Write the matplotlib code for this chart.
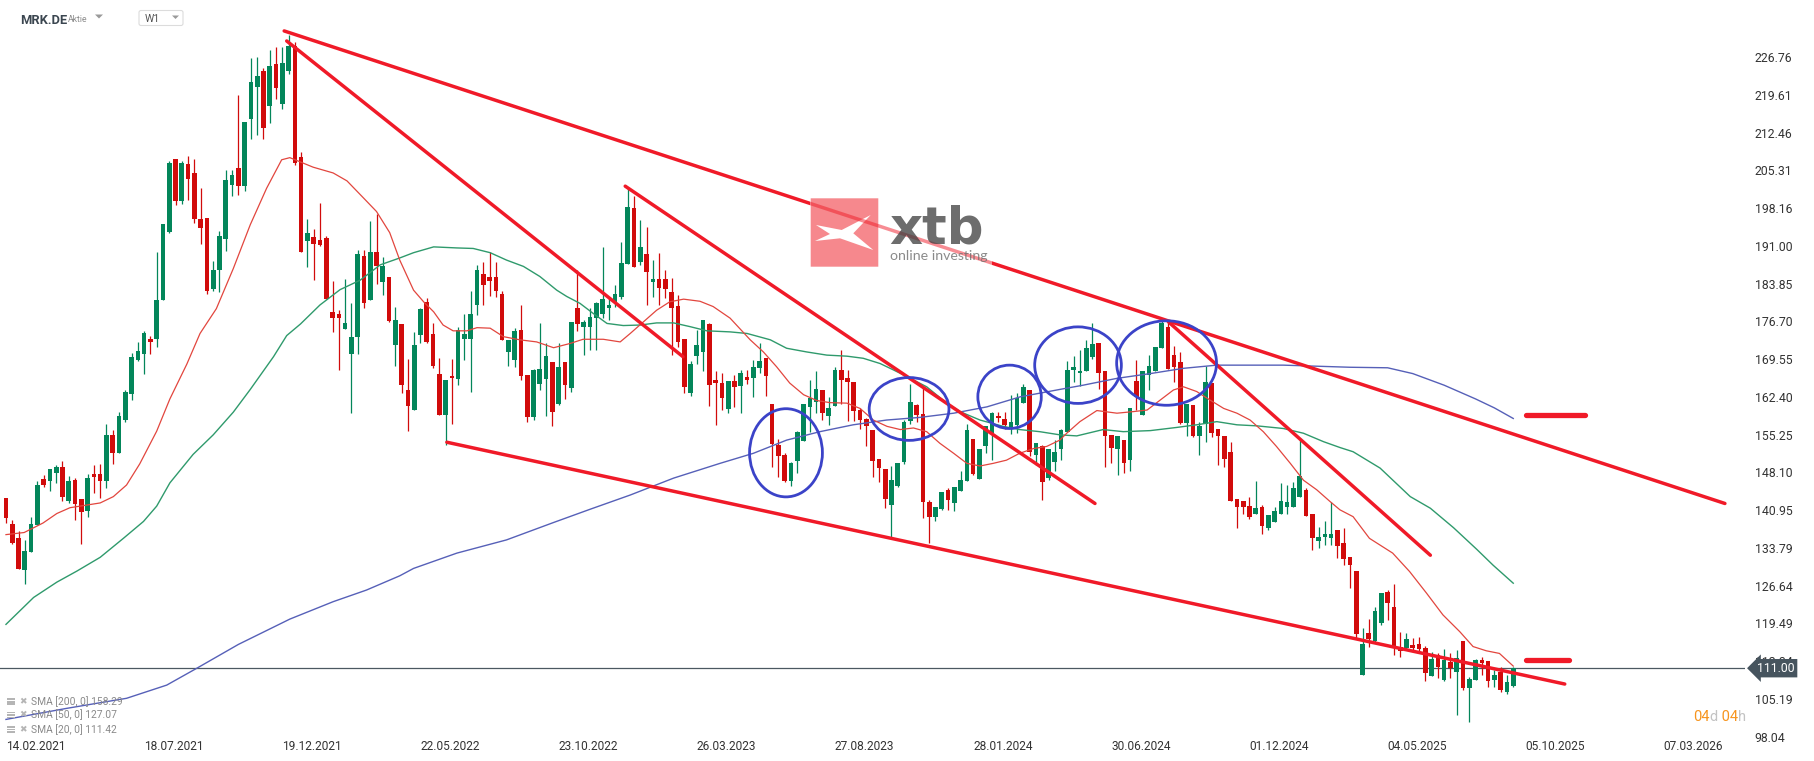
"""
MRK.DE weekly candles with SMA 20/50/200, trend channel lines and markup,
redrawn in the style of an xStation screenshot.
"""

import datetime as dt
import numpy as np
import matplotlib
matplotlib.use("Agg")
import matplotlib.pyplot as plt
import matplotlib.transforms as mtransforms
from matplotlib.patches import Ellipse, PathPatch, FancyBboxPatch, Rectangle
from matplotlib.path import Path

plt.rcParams['font.family'] = ['Roboto', 'DejaVu Sans']

# ---------------------------------------------------------------- data
FIRST_WEEK = dt.date(2021, 1, 12)   # week of the first candle

opens = [
    143.3, 138.3, 135.6, 129.6, 133.1, 138.1, 146.8, 146.5, 147.9, 149.2,
    142.7, 146.7, 143.0, 140.7, 147.8, 147.8, 146.4, 155.2, 151.7, 158.0,
    163.0, 169.3, 170.6, 173.3, 173.4, 180.7, 193.7, 207.5, 199.5, 206.5,
    204.8, 196.1, 196.2, 182.8, 186.5, 192.3, 202.6, 205.7, 202.4, 215.1,
    221.1, 224.2, 217.5, 225.4, 217.8, 224.2, 228.8, 207.9, 191.9, 192.7,
    192.1, 192.5, 178.5, 178.1, 175.3, 170.5, 173.8, 189.0, 180.7, 189.8,
    184.1, 185.1, 172.3, 176.1, 163.6, 159.9, 174.1, 180.4, 174.3, 166.7,
    159.0, 166.3, 165.8, 173.4, 173.4, 179.8, 185.7, 185.1, 185.1, 181.9,
    170.8, 169.4, 175.0, 166.5, 158.6, 164.9, 165.8, 169.0, 161.0, 169.0,
    164.1, 179.3, 175.7, 175.7, 177.4, 178.1, 179.3, 180.2, 181.4, 187.6,
    198.1, 188.0, 189.4, 184.2, 184.8, 184.8, 182.2, 179.6, 173.3, 163.2,
    170.1, 170.8, 176.2, 165.6, 165.1, 160.0, 165.4, 164.5, 166.1, 166.0,
    167.9, 169.7, 161.0, 153.3, 151.4, 146.5, 150.2, 154.0, 160.5, 161.5,
    163.7, 158.8, 160.7, 167.4, 166.0, 165.3, 159.9, 158.2, 156.1, 150.6,
    148.7, 142.0, 145.6, 150.1, 157.8, 160.8, 159.1, 142.5, 139.6, 141.1,
    144.8, 142.2, 144.6, 146.5, 154.5, 146.8, 153.0, 155.5, 158.8, 158.2,
    156.7, 157.0, 161.2, 163.7, 151.4, 153.1, 147.1, 150.1, 152.6, 155.8,
    167.4, 166.9, 167.2, 169.9, 172.5, 167.3, 155.2, 152.6, 154.2, 150.4,
    165.4, 159.0, 166.5, 167.3, 171.6, 175.6, 170.3, 169.0, 157.5, 160.8,
    154.9, 157.3, 165.1, 156.4, 155.0, 151.9, 143.0, 142.7, 141.7, 140.3,
    141.6, 137.5, 138.6, 140.3, 141.6, 141.6, 143.5, 144.7, 140.3, 135.0,
    135.9, 135.7, 137.1, 134.8, 132.1, 129.4, 109.7, 117.6, 116.1, 119.5,
    125.4, 122.5, 115.1, 114.8, 115.4, 115.6, 114.8, 109.6, 113.5, 108.8,
    112.2, 110.3, 116.2, 107.2, 108.8, 112.6, 112.4, 108.8, 110.3, 106.4,
    107.6,
]
highs = [
    143.3, 139.1, 137.0, 135.2, 139.6, 146.5, 147.5, 148.8, 149.4, 150.3,
    147.4, 147.1, 143.0, 147.7, 149.4, 149.7, 157.2, 156.2, 159.5, 163.6,
    170.7, 172.8, 174.9, 174.0, 189.9, 195.2, 207.1, 207.5, 207.0, 208.0,
    207.5, 202.0, 196.2, 188.1, 193.9, 205.4, 205.4, 219.6, 214.4, 226.5,
    226.7, 224.7, 228.0, 228.6, 228.6, 230.9, 229.6, 208.8, 196.1, 194.1,
    199.2, 192.8, 184.4, 178.8, 184.7, 180.2, 190.3, 190.3, 195.7, 197.0,
    188.8, 185.1, 179.4, 176.2, 169.5, 174.6, 179.3, 181.1, 176.3, 169.7,
    165.6, 169.5, 175.7, 178.1, 182.4, 187.4, 187.9, 189.8, 188.0, 182.5,
    173.2, 175.5, 179.8, 166.5, 167.6, 176.3, 172.5, 169.0, 172.5, 169.0,
    176.6, 186.4, 177.0, 179.3, 180.4, 190.7, 181.4, 183.6, 191.8, 202.2,
    200.4, 195.9, 194.5, 188.4, 189.6, 186.5, 185.0, 181.7, 173.3, 169.1,
    175.1, 177.0, 176.4, 167.2, 166.9, 165.4, 166.5, 167.4, 167.5, 169.4,
    172.5, 169.7, 161.0, 154.5, 151.7, 150.1, 156.0, 161.0, 165.6, 167.2,
    163.7, 162.4, 168.0, 171.3, 167.5, 165.3, 160.2, 158.3, 156.1, 150.6,
    148.7, 149.3, 149.9, 158.0, 164.9, 161.0, 164.5, 142.9, 141.5, 144.4,
    145.1, 145.3, 148.4, 157.3, 154.5, 152.5, 156.9, 159.6, 159.6, 159.6,
    162.7, 163.1, 164.8, 163.7, 153.6, 153.3, 152.6, 154.2, 156.4, 169.2,
    170.1, 171.3, 173.2, 176.4, 172.5, 167.3, 155.2, 155.0, 154.2, 160.2,
    169.4, 167.2, 170.3, 171.9, 176.9, 176.6, 172.0, 170.8, 161.0, 160.8,
    157.7, 168.2, 165.1, 156.4, 155.0, 153.9, 143.0, 142.7, 143.5, 146.5,
    141.9, 140.0, 141.6, 146.1, 145.7, 146.3, 154.2, 145.1, 140.3, 137.8,
    138.8, 142.5, 137.2, 137.5, 132.1, 129.4, 118.7, 120.3, 122.6, 125.3,
    125.9, 126.9, 117.8, 117.6, 116.7, 117.0, 115.2, 114.0, 113.8, 114.6,
    113.8, 114.4, 116.2, 109.3, 112.7, 113.1, 112.4, 110.7, 111.3, 109.8,
    111.3,
]
lows = [
    138.5, 134.5, 129.8, 126.9, 133.1, 138.1, 145.4, 144.5, 146.1, 142.6,
    142.3, 139.0, 134.6, 139.7, 144.2, 143.2, 145.2, 149.7, 151.7, 157.7,
    161.8, 169.1, 166.8, 170.6, 171.8, 180.7, 193.4, 198.8, 199.0, 199.6,
    195.4, 191.4, 181.9, 182.5, 182.3, 190.1, 200.4, 200.7, 201.3, 211.3,
    211.9, 211.3, 214.3, 218.9, 217.0, 223.6, 206.4, 189.9, 187.0, 184.6,
    190.9, 181.0, 174.7, 167.5, 175.3, 159.3, 170.5, 179.3, 180.7, 183.8,
    181.7, 176.5, 168.3, 163.2, 156.0, 159.9, 172.5, 172.5, 167.8, 159.0,
    153.3, 157.3, 164.6, 169.4, 163.4, 177.9, 179.7, 181.5, 181.4, 173.2,
    168.2, 168.1, 165.6, 157.7, 158.1, 163.6, 158.8, 156.9, 160.9, 161.9,
    163.4, 174.9, 170.3, 171.3, 171.3, 177.3, 177.0, 179.5, 180.9, 187.6,
    186.9, 187.4, 179.7, 181.4, 179.8, 181.1, 170.3, 171.9, 163.2, 162.6,
    168.7, 167.2, 160.7, 157.1, 159.9, 159.3, 160.4, 159.3, 164.9, 162.3,
    166.9, 162.6, 149.2, 147.3, 146.2, 145.6, 148.0, 154.0, 155.8, 159.4,
    158.0, 157.1, 160.7, 161.0, 157.8, 157.8, 156.4, 153.0, 147.3, 146.3,
    141.3, 135.9, 145.4, 149.7, 157.3, 157.6, 139.4, 134.7, 138.9, 141.0,
    141.0, 140.7, 144.6, 146.5, 147.6, 146.8, 151.7, 150.4, 157.7, 156.3,
    155.4, 155.5, 161.2, 151.2, 149.5, 142.9, 146.6, 148.4, 150.4, 155.8,
    165.3, 164.4, 167.2, 169.5, 163.8, 149.2, 149.8, 147.6, 147.9, 148.4,
    159.9, 159.0, 163.6, 167.3, 171.6, 167.7, 165.3, 157.3, 154.9, 154.7,
    151.3, 153.9, 154.7, 149.5, 149.2, 142.7, 137.6, 140.2, 139.2, 140.3,
    136.4, 137.2, 138.6, 140.3, 140.3, 141.6, 143.5, 139.8, 133.3, 133.7,
    134.3, 134.3, 131.8, 130.5, 126.1, 116.5, 109.7, 115.1, 116.0, 119.2,
    120.1, 113.5, 113.2, 114.6, 114.1, 114.3, 108.5, 109.6, 109.2, 108.6,
    109.2, 102.1, 106.8, 100.9, 108.8, 109.7, 107.5, 107.5, 106.4, 106.2,
    107.4,
]
closes = [
    139.4, 134.7, 129.8, 133.2, 138.4, 145.7, 145.7, 148.8, 149.2, 143.4,
    146.5, 142.1, 140.5, 147.0, 147.3, 146.4, 155.2, 151.7, 158.8, 163.3,
    169.9, 171.1, 174.5, 172.7, 180.7, 195.2, 206.6, 199.5, 206.6, 203.6,
    196.0, 194.3, 182.5, 186.5, 192.8, 203.5, 204.4, 202.4, 214.4, 222.0,
    223.1, 213.3, 225.1, 220.9, 225.7, 228.8, 206.7, 189.9, 193.4, 191.4,
    191.2, 181.0, 177.3, 177.4, 176.3, 173.8, 189.4, 180.2, 189.8, 187.2,
    187.2, 176.7, 176.9, 164.6, 160.7, 172.2, 179.0, 172.8, 168.2, 159.0,
    165.6, 165.9, 175.0, 174.3, 178.1, 186.4, 183.6, 184.4, 182.5, 173.2,
    173.2, 174.9, 166.4, 158.5, 167.5, 167.7, 170.1, 159.6, 168.0, 164.6,
    176.6, 176.2, 176.6, 177.6, 180.1, 181.0, 179.8, 181.9, 187.7, 198.3,
    186.9, 190.7, 186.1, 184.8, 183.1, 182.8, 179.2, 172.8, 164.2, 168.7,
    172.2, 177.0, 164.6, 165.1, 162.2, 165.4, 164.3, 166.9, 165.5, 168.0,
    169.1, 166.4, 153.5, 151.1, 146.5, 149.8, 155.8, 161.0, 162.2, 163.9,
    159.4, 160.3, 167.5, 165.5, 165.3, 159.7, 158.0, 156.8, 150.3, 149.0,
    143.1, 146.6, 149.9, 157.7, 161.4, 159.0, 142.4, 139.6, 141.5, 144.4,
    142.9, 145.3, 146.6, 156.1, 147.7, 152.5, 156.8, 159.3, 158.3, 157.1,
    157.7, 162.1, 164.2, 152.0, 153.6, 146.2, 152.6, 152.0, 156.1, 167.5,
    168.0, 167.3, 171.6, 172.4, 167.0, 155.0, 152.8, 155.0, 149.9, 160.2,
    162.4, 167.2, 168.2, 171.9, 176.4, 167.7, 168.1, 157.4, 161.0, 154.9,
    156.8, 165.3, 155.5, 154.9, 150.6, 142.7, 141.6, 141.5, 139.7, 141.3,
    137.9, 140.0, 140.8, 142.7, 142.4, 145.2, 147.4, 139.9, 135.7, 135.8,
    136.4, 136.4, 134.2, 131.7, 130.5, 117.5, 115.6, 116.5, 121.8, 125.3,
    123.4, 114.8, 114.3, 116.5, 114.8, 114.6, 110.0, 112.7, 111.3, 112.6,
    111.0, 112.9, 107.2, 108.9, 112.6, 112.0, 108.6, 109.7, 106.9, 108.3,
    111.1,
]

# moving averages (candle number, value)
sma20_idx = [1, 3.9, 6.9, 9.1, 11.2, 16, 18.1, 20.2, 22.3, 25, 27.1, 29.8, 31.9,
             34.5, 37.2, 39.9, 42.5, 44.9, 46.2, 49.9, 53.1, 55.3, 57.9, 60,
             62.1, 63.7, 65.9, 67.5, 69.1, 70.6, 72.2, 74.4, 76, 78.1, 80.2,
             82.8, 85.5, 88.2, 90.8, 92.9, 96.1, 98.8, 100.4, 102.5, 104.6,
             106.7, 108.9, 111.5, 113.6, 116.3, 119.5, 121.6, 123.7, 125.8,
             128, 130.1, 132.2, 134.9, 137, 139.1, 141.3, 143.4, 145.5, 147.6,
             149.7, 151.9, 154, 156.1, 158.2, 160.3, 162.4, 164.6, 166.7,
             168.8, 169.9, 172, 174.7, 177.9, 180.5, 182.7, 184.8, 186.9,
             188.5, 190.6, 192.7, 194.9, 197, 199.1, 201.2, 203.3, 205.5,
             207.6, 209.7, 211.8, 213.4, 215.5, 218.1, 221.8, 224.5, 227.2,
             229.8, 232.5, 234.6, 236.7, 238.8, 241]
sma20_val = [136.3, 136.7, 138.5, 140.3, 141.4, 142.3, 143.5, 145.7, 149.7,
             155.9, 162.0, 168.6, 174.4, 179.1, 186.7, 195.0, 201.9, 207.3,
             207.7, 205.9, 204.8, 203.3, 200.1, 197.5, 193.5, 188.3, 182.6,
             180.4, 178.5, 176.0, 174.9, 174.9, 175.5, 175.4, 173.8, 173.2,
             172.8, 171.7, 172.5, 173.3, 173.3, 172.8, 174.4, 176.6, 178.8,
             180.4, 180.9, 180.5, 179.5, 177.3, 173.2, 170.9, 168.1, 165.0,
             162.8, 161.7, 161.3, 161.2, 160.2, 158.0, 156.8, 156.2, 156.5,
             155.8, 153.6, 151.7, 149.8, 149.3, 149.8, 150.4, 151.7, 152.6,
             153.0, 154.2, 155.5, 157.7, 159.8, 159.3, 159.6, 159.9, 161.8,
             163.7, 164.3, 163.4, 161.8, 160.2, 159.3, 158.0, 155.8, 153.0,
             149.8, 146.6, 144.8, 142.6, 141.0, 139.7, 135.6, 132.8, 129.3,
             125.2, 121.1, 117.9, 115.1, 114.3, 113.8, 111.4]

sma50_idx = [1, 5.4, 9.1, 12.3, 16, 19.7, 22.9, 25, 27.1, 30.8, 34, 37.2, 39.9,
             43.6, 45.7, 47.9, 51, 54.2, 57.4, 60.6, 63.7, 65.9, 69.1, 72.8,
             75.4, 78.1, 80.7, 83.4, 86, 88.7, 90.3, 92.4, 94.5, 96.7, 99.3,
             102, 104.6, 107.3, 109.9, 112.6, 116.3, 119, 122.7, 125.3, 128.5,
             131.7, 134.9, 137.5, 140.2, 142.3, 145, 147.6, 150.8, 152.9,
             156.1, 159.8, 162.4, 165.6, 168.8, 171.5, 175.7, 178.9, 183.2,
             187.4, 190.6, 193.8, 197, 200.2, 204.4, 207.6, 210.8, 213.4,
             215.5, 219.8, 224.6, 227.8, 231.5, 235.2, 237.8, 241]
sma50_val = [119.3, 124.4, 127.3, 129.4, 132.0, 135.6, 138.8, 141.7, 146.1,
             151.5, 155.2, 159.5, 163.8, 170.0, 174.0, 176.2, 179.8, 182.7,
             184.5, 187.4, 188.7, 189.7, 190.8, 190.6, 190.5, 189.7, 188.3,
             187.1, 185.2, 182.6, 181.4, 180.1, 178.2, 176.3, 175.9, 176.0,
             176.4, 176.4, 175.7, 174.9, 174.7, 174.4, 173.2, 171.6, 170.9,
             170.3, 170.1, 169.7, 168.7, 167.5, 165.9, 164.3, 161.2, 159.6,
             158.0, 156.8, 156.2, 155.8, 155.2, 155.0, 156.2, 155.8, 156.0,
             156.6, 157.1, 157.7, 157.1, 156.9, 156.4, 155.5, 153.9, 152.8,
             152.0, 148.9, 143.5, 141.3, 137.6, 133.5, 130.5, 127.1]

sma200_idx = [1, 10.7, 20.2, 26.6, 31.4, 38, 46.2, 53.1, 58.4, 63.7, 65.9, 72.8,
              80.7, 88.2, 94, 100.4, 107.3, 114.7, 120, 125.3, 130.6, 135.9,
              141.2, 146.5, 151.9, 157.2, 162.5, 168.8, 172.5, 177.9, 183.2,
              188.5, 193.8, 199.1, 204.4, 209.7, 215, 221, 225, 230, 235, 238,
              241]
sma200_val = [101.3, 103.4, 105.3, 107.8, 111.0, 115.5, 120.3, 123.6, 125.8,
              128.5, 129.9, 132.8, 135.3, 138.6, 141.1, 143.8, 147.0, 149.8,
              151.7, 154.2, 155.8, 157.1, 158.0, 158.5, 159.3, 160.5, 162.4,
              163.8, 164.6, 165.9, 166.8, 167.8, 168.4, 168.4, 168.4, 168.2,
              168.0, 167.9, 166.8, 164.6, 162.0, 160.3, 158.3]
sma_last = [158.29, 127.07, 111.42]   # values printed in the legend

# trend lines drawn on the chart: (candle, price) -> (candle, price)
trend_lines = [
    ((45.3, 231.7), (274.7, 142.2)),
    ((45.7, 229.8), (108.8, 170.0)),
    ((99.6, 202.3), (174.4, 142.2)),
    ((186.1, 176.6), (227.8, 132.4)),
    ((71.2, 153.8), (249.2, 108.0)),
]
# short horizontal markers at the right end
level_marks = [((243.0, 252.4), 158.9), ((243.0, 249.9), 112.5)]
# blue circles: centre candle, centre price, width (candles), height (price)
circles = [
    (125.2, 151.8, 11.6, 16.7),
    (144.8, 160.1, 12.7, 11.9),
    (160.8, 162.4, 10.1, 12.0),
    (171.7, 168.4, 13.8, 14.5),
    (185.8, 168.8, 15.9, 16.0),
]

last_price = 111.00
y_ticks = [98.04, 105.19, 112.34, 119.49, 126.64, 133.79, 140.95, 148.10,
           155.25, 162.40, 169.55, 176.70, 183.85, 191.00, 198.16, 205.31,
           212.46, 219.61, 226.76]
x_tick_dates = ["14.02.2021", "18.07.2021", "19.12.2021", "22.05.2022",
                "23.10.2022", "26.03.2023", "27.08.2023", "28.01.2024",
                "30.06.2024", "01.12.2024", "04.05.2025", "05.10.2025",
                "07.03.2026"]

# ---------------------------------------------------------------- style
GREEN = "#03865a"
RED = "#d10b0b"
LINE_RED = "#f01a28"
SMA20_C = "#e2463e"
SMA50_C = "#2f9a6c"
SMA200_C = "#5660b8"
CIRCLE_C = "#3b43c8"
W, H = 1815, 761


def week_pos(label):
    d = dt.datetime.strptime(label, "%d.%m.%Y").date()
    return 1 + (d - FIRST_WEEK).days / 7.0


def main():
    o = np.array(opens)
    h = np.array(highs)
    l = np.array(lows)
    c = np.array(closes)
    n = np.arange(1, len(o) + 1)

    fig = plt.figure(figsize=(W / 100, H / 100), dpi=100)
    ax = fig.add_axes([0, 23 / H, 1745 / W, 738 / H])
    ax.set_xlim(0.05, 277.9)
    ax.set_ylim(97.78, 237.56)
    for s in ax.spines.values():
        s.set_visible(False)

    # candles
    up = c >= o
    cols = np.where(up, GREEN, RED)
    ax.vlines(n, np.minimum(l, np.minimum(o, c)), np.maximum(h, np.maximum(o, c)),
              colors=cols, lw=0.9, zorder=3)
    ax.bar(n, np.maximum(np.abs(c - o), 0.3), bottom=np.minimum(o, c),
           width=0.74, color=cols, lw=0, zorder=3)

    # moving averages
    ax.plot(sma200_idx, sma200_val, color=SMA200_C, lw=1.0, zorder=4)
    ax.plot(sma50_idx, sma50_val, color=SMA50_C, lw=1.0, zorder=4)
    ax.plot(sma20_idx, sma20_val, color=SMA20_C, lw=0.9, zorder=4)

    # last price line
    ax.axhline(last_price, color="#4b5861", lw=0.9, zorder=2.5)

    # trend lines and markers
    for (x0, y0), (x1, y1) in trend_lines:
        ax.plot([x0, x1], [y0, y1], color=LINE_RED, lw=2.5,
                solid_capstyle="round", zorder=5)
    for (x0, x1), y in level_marks:
        ax.plot([x0, x1], [y, y], color=LINE_RED, lw=3.8,
                solid_capstyle="round", zorder=5)
    for cx, cy, ew, eh in circles:
        ax.add_patch(Ellipse((cx, cy), ew, eh, fill=False, ec=CIRCLE_C,
                             lw=2.0, zorder=6))

    # axes ticks
    ax.yaxis.tick_right()
    ax.set_yticks(y_ticks)
    ax.set_yticklabels([f"{v:.2f}" for v in y_ticks])
    ax.tick_params(axis="y", length=0, pad=7, labelsize=8.8, labelcolor="#333333")
    ax.set_xticks([week_pos(d) for d in x_tick_dates])
    ax.set_xticklabels(x_tick_dates)
    ax.tick_params(axis="x", length=0, pad=1.5, labelsize=8.6, labelcolor="#333333")

    # last price tag
    tr = mtransforms.blended_transform_factory(ax.transAxes, ax.transData)
    ax.text(1.0 + 12 / 1745, last_price, f"{last_price:.2f}", transform=tr,
            ha="left", va="center", color="white", fontsize=8.8, zorder=10,
            clip_on=False,
            bbox=dict(boxstyle="larrow,pad=0.22", fc="#46545e", ec="none"))

    # ------------------------------------------------ overlay (pixel space)
    ov = fig.add_axes([0, 0, 1, 1])
    ov.set_xlim(0, W)
    ov.set_ylim(H, 0)
    ov.set_axis_off()

    # header
    ov.text(20, 23.5, "MRK.DE", fontsize=9.3, fontweight="bold", color="#3b4650")
    ov.text(68, 22, "Aktie", fontsize=6.2, color="#8c8c8c")
    ov.fill([95, 103, 99], [14.5, 14.5, 18.5], color="#9a9a9a", lw=0)
    ov.add_patch(FancyBboxPatch((139, 10.5), 44, 15,
                                boxstyle="round,pad=0,rounding_size=2",
                                fc="white", ec="#dcdcdc", lw=0.8))
    ov.text(145, 22.3, "W1", fontsize=7.6, color="#555555")
    ov.fill([172, 179, 175.5], [15.5, 15.5, 19], color="#9a9a9a", lw=0)

    # xtb logo, semi transparent on top of the chart
    ov.add_patch(Rectangle((810, 198), 182, 69, fc="white", ec="none", alpha=0.5))
    square = [(810.7, 198.3), (878.3, 198.3), (878.3, 266.7), (810.7, 266.7)]
    xmark = [(816, 225), (841.7, 230), (870.7, 215), (853.3, 233.3),
             (873.3, 250), (840, 238.3), (815, 241), (830, 234)][::-1]
    logo_path = Path.make_compound_path(
        Path(square + [square[0]], closed=True),
        Path(xmark + [xmark[0]], closed=True))
    ov.add_patch(PathPatch(logo_path, fc="#ee1c25", ec="none", alpha=0.52))
    ov.text(889, 244, "xtb", fontsize=37, fontweight="bold",
            family="DejaVu Sans", color="#3c3c3c", alpha=0.75)
    ov.text(890, 259.5, "online investing", fontsize=10.2, family="Lato",
            color="#6e6e6e", alpha=0.8)

    # legend rows
    legend_rows = [(f"SMA [200, 0] {sma_last[0]:.2f}", 701.7),
                   (f"SMA [50, 0] {sma_last[1]:.2f}", 715.0),
                   (f"SMA [20, 0] {sma_last[2]:.2f}", 729.3)]
    for text, y in legend_rows:
        for dy in (-3.3, -0.8, 1.7):
            ov.add_patch(Rectangle((7, y + dy), 8, 1.6, fc="#b5b5b5", ec="none"))
        ov.text(19.5, y, "\u2716", fontsize=6.5, family="DejaVu Sans",
                color="#b5b5b5", va="center")
        ov.text(31, y, text, fontsize=7.4, color="#8a8a8a", va="center")

    # countdown to candle close
    cx = 1693
    for part, col in [("04", "#f7941d"), ("d", "#c3c3c3"), (" 04", "#f7941d"),
                      ("h", "#c3c3c3")]:
        t = ov.text(cx, 721, part, fontsize=10.5, color=col)
        fig.canvas.draw()
        bb = t.get_window_extent()
        cx += bb.width

    fig.savefig("out.png", dpi=100)
    plt.close(fig)


if __name__ == "__main__":
    main()
